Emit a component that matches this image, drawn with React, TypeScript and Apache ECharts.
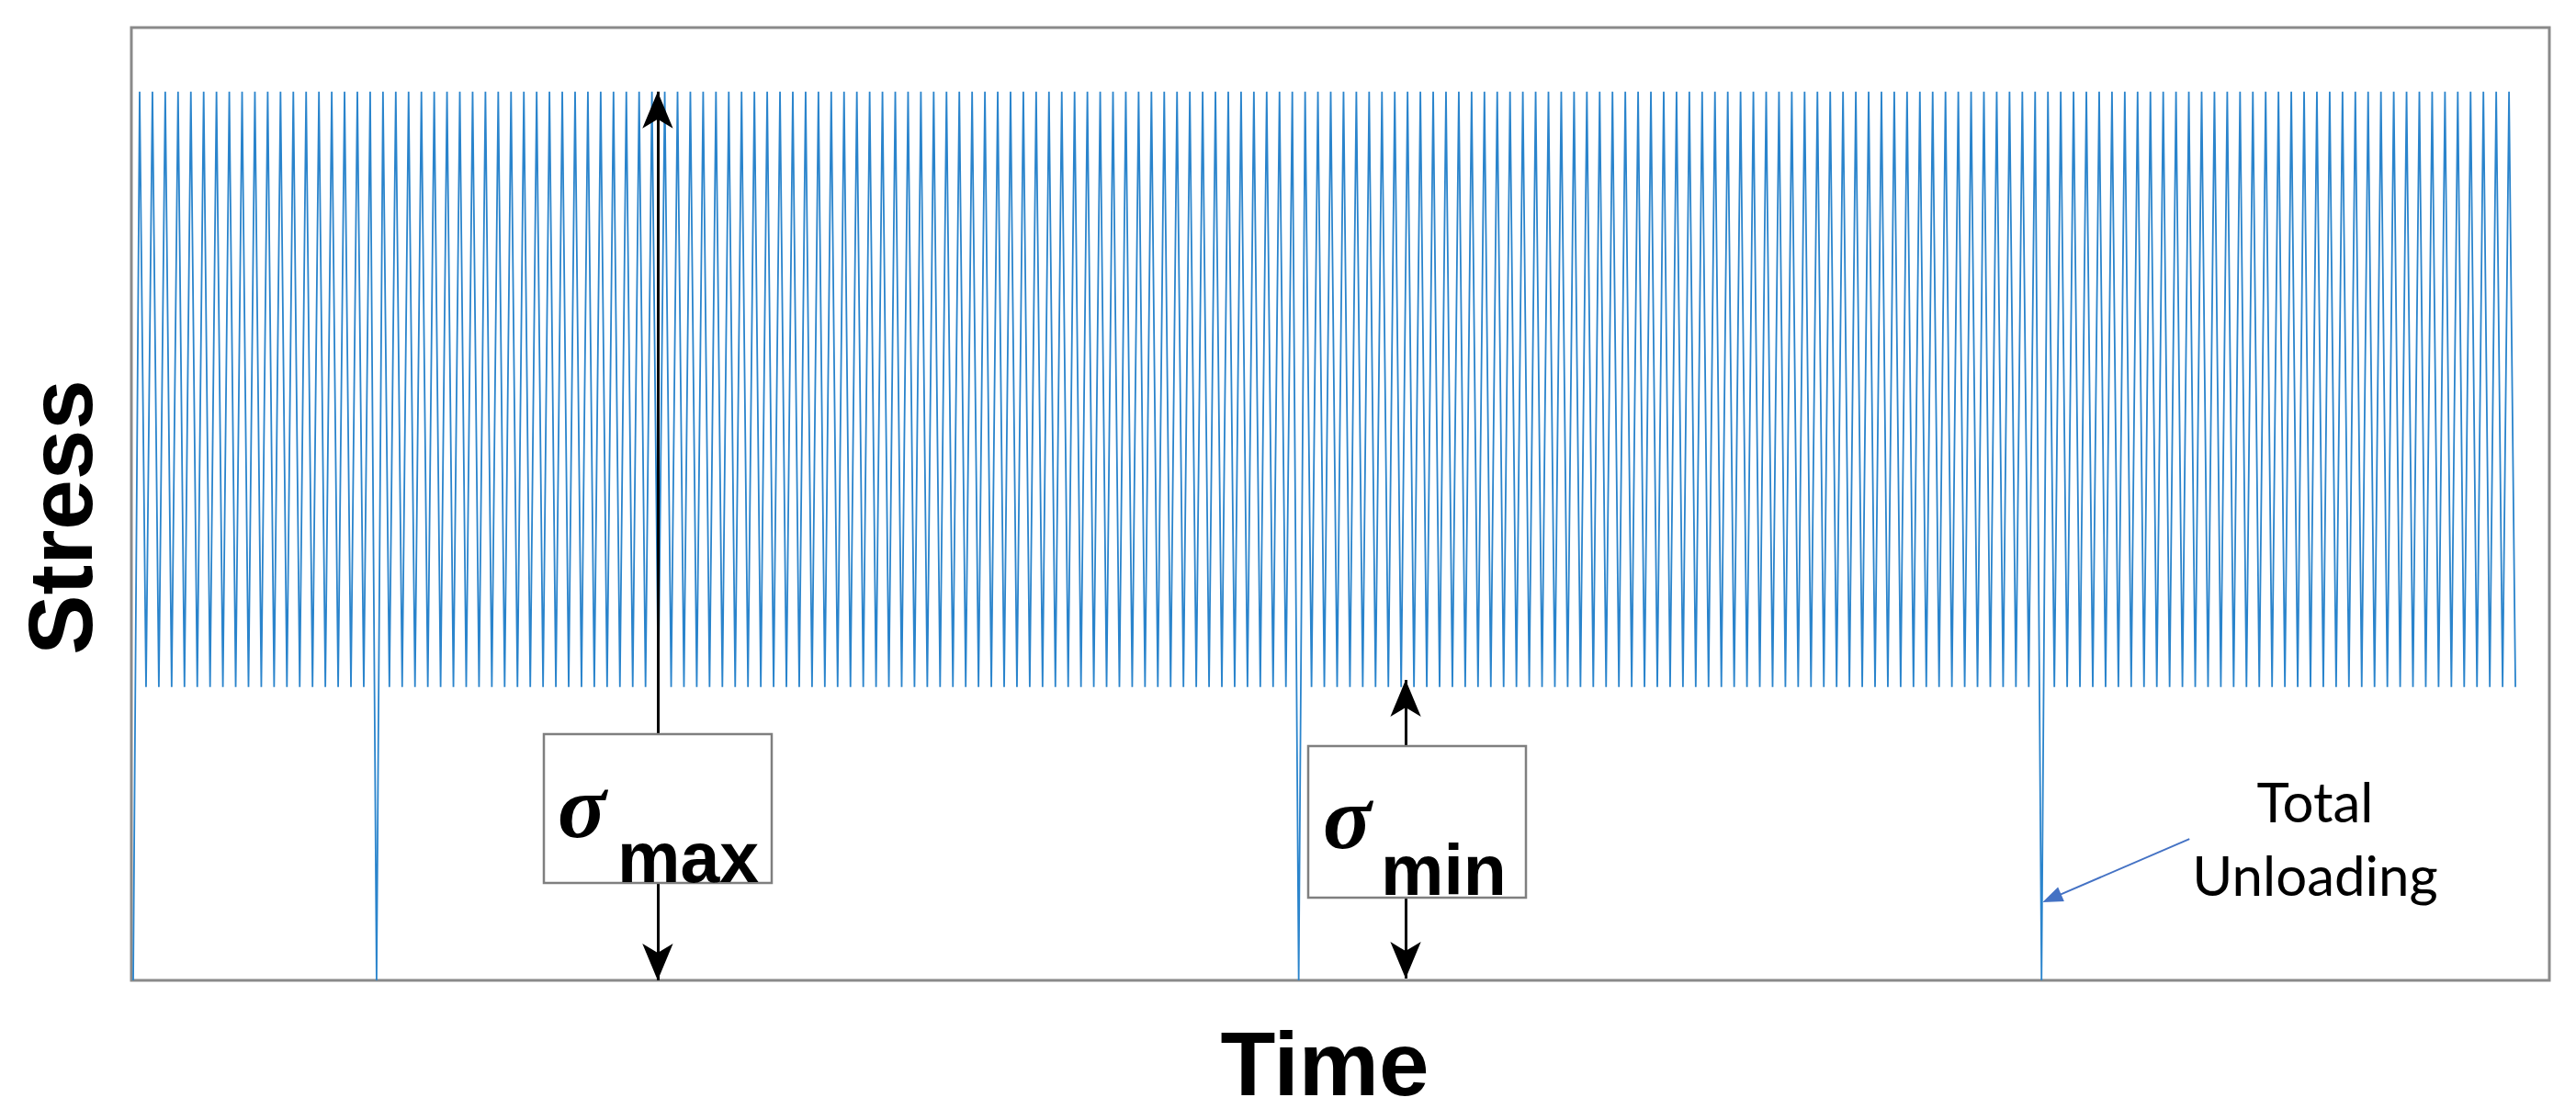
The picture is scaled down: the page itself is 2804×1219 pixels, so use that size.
import React, { useEffect, useRef } from "react";
import * as echarts from "echarts";

// Stress history (relative units): one value per turning point of the load signal.
// Blocks of constant-amplitude cycles between sigma_min (33) and sigma_max (100),
// separated by total unloading (0).
const stress = [
  0,
  // block 1 : 19 cycles, then total unloading
  100, 33, 100, 33, 100, 33, 100, 33, 100, 33, 100, 33, 100, 33, 100, 33, 100, 33, 100, 33,
  100, 33, 100, 33, 100, 33, 100, 33, 100, 33, 100, 33, 100, 33, 100, 33, 100, 0,
  // block 2 : 72 cycles, then total unloading
  100, 33, 100, 33, 100, 33, 100, 33, 100, 33, 100, 33, 100, 33, 100, 33, 100, 33, 100, 33,
  100, 33, 100, 33, 100, 33, 100, 33, 100, 33, 100, 33, 100, 33, 100, 33, 100, 33, 100, 33,
  100, 33, 100, 33, 100, 33, 100, 33, 100, 33, 100, 33, 100, 33, 100, 33, 100, 33, 100, 33,
  100, 33, 100, 33, 100, 33, 100, 33, 100, 33, 100, 33, 100, 33, 100, 33, 100, 33, 100, 33,
  100, 33, 100, 33, 100, 33, 100, 33, 100, 33, 100, 33, 100, 33, 100, 33, 100, 33, 100, 33,
  100, 33, 100, 33, 100, 33, 100, 33, 100, 33, 100, 33, 100, 33, 100, 33, 100, 33, 100, 33,
  100, 33, 100, 33, 100, 33, 100, 33, 100, 33, 100, 33, 100, 33, 100, 33, 100, 33, 100, 33,
  100, 33, 100, 0,
  // block 3 : 58 cycles, then total unloading
  100, 33, 100, 33, 100, 33, 100, 33, 100, 33, 100, 33, 100, 33, 100, 33, 100, 33, 100, 33,
  100, 33, 100, 33, 100, 33, 100, 33, 100, 33, 100, 33, 100, 33, 100, 33, 100, 33, 100, 33,
  100, 33, 100, 33, 100, 33, 100, 33, 100, 33, 100, 33, 100, 33, 100, 33, 100, 33, 100, 33,
  100, 33, 100, 33, 100, 33, 100, 33, 100, 33, 100, 33, 100, 33, 100, 33, 100, 33, 100, 33,
  100, 33, 100, 33, 100, 33, 100, 33, 100, 33, 100, 33, 100, 33, 100, 33, 100, 33, 100, 33,
  100, 33, 100, 33, 100, 33, 100, 33, 100, 33, 100, 33, 100, 33, 100, 0,
  // block 4 : 37 cycles
  100, 33, 100, 33, 100, 33, 100, 33, 100, 33, 100, 33, 100, 33, 100, 33, 100, 33, 100, 33,
  100, 33, 100, 33, 100, 33, 100, 33, 100, 33, 100, 33, 100, 33, 100, 33, 100, 33, 100, 33,
  100, 33, 100, 33, 100, 33, 100, 33, 100, 33, 100, 33, 100, 33, 100, 33, 100, 33, 100, 33,
  100, 33, 100, 33, 100, 33, 100, 33, 100, 33, 100, 33, 100, 33,
];

const xTitle = "Time";
const yTitle = "Stress";
const unloadingLabel = "Total\nUnloading";

// annotation anchors (time index, stress level)
const sigmaMaxX = 81.9;
const sigmaMinX = 198.7;
const sigmaMaxLevel = 100;
const sigmaMinLevel = 33.8;

const SANS = "'Liberation Sans', Arial, Helvetica, sans-serif";
const SERIF = "'Liberation Serif', 'Times New Roman', serif";

export default function App() {
  const ref = useRef<HTMLDivElement>(null);

  useEffect(() => {
    if (!ref.current) return;
    const chart = echarts.init(ref.current, undefined, { renderer: "svg" });

    const seriesData = stress.map((v, i) => [i, v]);

    const blackArrow = (x: number, y0: number, y1: number) => [
      { coord: [x, y0], symbol: "arrow", symbolSize: [25, 40] },
      { coord: [x, y1], symbol: "arrow", symbolSize: [25, 40] },
    ];

    chart.setOption({
      animation: false,
      backgroundColor: "#ffffff",
      grid: {
        left: 143,
        top: 30,
        right: 29,
        bottom: 152,
        show: true,
        borderColor: "#8a8a8a",
        borderWidth: 3,
        backgroundColor: "transparent",
        containLabel: false,
        outerBoundsMode: "none",
      },
      xAxis: {
        type: "value",
        min: -0.29,
        max: 377.3,
        name: xTitle,
        nameLocation: "middle",
        nameGap: 42,
        nameTextStyle: {
          fontFamily: SANS,
          fontWeight: "bold",
          fontSize: 98,
          lineHeight: 98,
          color: "#000",
          padding: [0, 34, 0, 0],
        },
        axisLine: { show: false },
        axisTick: { show: false },
        axisLabel: { show: false },
        splitLine: { show: false },
      },
      yAxis: {
        type: "value",
        min: 0,
        max: 107.2,
        name: yTitle,
        nameLocation: "middle",
        nameGap: 28,
        nameTextStyle: {
          fontFamily: SANS,
          fontWeight: "bold",
          fontSize: 98,
          lineHeight: 98,
          color: "#000",
          padding: [0, 29, 0, 0],
        },
        axisLine: { show: false },
        axisTick: { show: false },
        axisLabel: { show: false },
        splitLine: { show: false },
      },
      series: [
        {
          type: "line",
          data: seriesData,
          showSymbol: false,
          symbol: "none",
          silent: true,
          lineStyle: { color: "#2a84cc", width: 1.8 },
          emphasis: { disabled: true },
          z: 2,
          markLine: {
            silent: true,
            animation: false,
            label: { show: false },
            emphasis: { disabled: true },
            lineStyle: { color: "#000", width: 3, type: "solid" },
            itemStyle: { color: "#000" },
            data: [
              blackArrow(sigmaMaxX, 0, sigmaMaxLevel),
              blackArrow(sigmaMinX, 0.2, sigmaMinLevel),
              [
                {
                  coord: [321.1, 15.9],
                  symbol: "none",
                  lineStyle: { color: "#4472C4", width: 2, type: "solid" },
                  itemStyle: { color: "#4472C4" },
                },
                {
                  coord: [299.6, 9.24],
                  symbol: "triangle",
                  symbolSize: [17, 22],
                  itemStyle: { color: "#4472C4" },
                },
              ],
            ],
          },
        },
      ],
      graphic: [
        {
          type: "rect",
          z: 100,
          shape: { x: 592, y: 799, width: 248, height: 162 },
          style: { fill: "#ffffff", stroke: "#7f7f7f", lineWidth: 2.5 },
        },
        {
          type: "text",
          z: 101,
          x: 607,
          y: 878,
          style: {
            text: "σ",
            font: `italic bold 98px ${SERIF}`,
            fill: "#000",
            textAlign: "left",
            textVerticalAlign: "middle",
          },
        },
        {
          type: "text",
          z: 101,
          x: 672,
          y: 933,
          style: {
            text: "max",
            font: `bold 77px ${SANS}`,
            fill: "#000",
            textAlign: "left",
            textVerticalAlign: "middle",
          },
        },
        {
          type: "rect",
          z: 100,
          shape: { x: 1424, y: 812, width: 237, height: 165 },
          style: { fill: "#ffffff", stroke: "#7f7f7f", lineWidth: 2.5 },
        },
        {
          type: "text",
          z: 101,
          x: 1440,
          y: 890,
          style: {
            text: "σ",
            font: `italic bold 98px ${SERIF}`,
            fill: "#000",
            textAlign: "left",
            textVerticalAlign: "middle",
          },
        },
        {
          type: "text",
          z: 101,
          x: 1503,
          y: 947,
          style: {
            text: "min",
            font: `bold 77px ${SANS}`,
            fill: "#000",
            textAlign: "left",
            textVerticalAlign: "middle",
          },
        },
        {
          type: "text",
          z: 101,
          x: 2520,
          y: 912,
          style: {
            text: unloadingLabel,
            font: `60px Lato, 'Open Sans', sans-serif`,
            lineHeight: 80,
            fill: "#000",
            textAlign: "center",
            textVerticalAlign: "middle",
          },
        },
      ],
    });

    return () => chart.dispose();
  }, []);

  return (
    <div
      ref={ref}
      style={{ position: "absolute", left: 0, top: 0, width: 2804, height: 1219, background: "#fff" }}
    />
  );
}
